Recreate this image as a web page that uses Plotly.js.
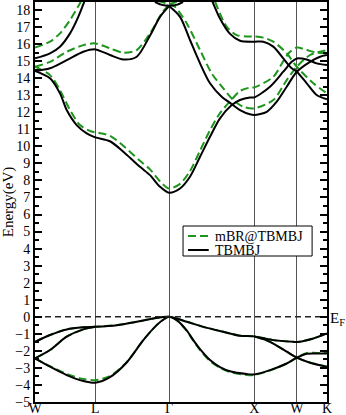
<!DOCTYPE html>
<html>
<head>
<meta charset="utf-8">
<script src="https://cdn.plot.ly/plotly-3.0.1.min.js"></script>
<style>
  html, body { margin: 0; padding: 0; background: #fff; }
  #plot { width: 346px; height: 415px; }
</style>
</head>
<body>
<div id="plot"></div>
<script>
// high symmetry points along W-L-G-X-W-K
const symK = [0, 0.707, 1.573, 2.573, 3.073, 3.427]
const symLabels = ['W', 'L', 'Γ', 'X', 'W', 'K']

// TBMBJ bands (black)
const tbA_k = [0, 0.176, 0.293, 0.372, 0.489, 0.607, 0.707, 0.880, 1.056, 1.232, 1.350, 1.467, 1.573, 1.702, 1.819, 1.937, 2.054, 2.171, 2.309, 2.406, 2.523, 2.573, 2.758, 2.914, 3.013, 3.073, 3.189, 3.306, 3.427]
const tbA_e = [14.42, 13.99, 13.11, 12.13, 11.25, 10.76, 10.53, 10.3, 9.6, 8.8, 8.31, 7.63, 7.28, 7.53, 8.22, 9.39, 10.56, 11.64, 12.42, 12.72, 12.87, 12.87, 13.5, 14.38, 14.96, 15.16, 15.1, 14.87, 14.77]

const tbB_k = [1.573, 1.702, 1.819, 1.937, 2.054, 2.191, 2.309, 2.406, 2.523, 2.573, 2.720, 2.837, 2.954, 3.073, 3.228, 3.345, 3.427]
const tbB_e = [18.23, 17.6, 16.24, 14.87, 13.7, 12.91, 12.48, 12.13, 11.88, 11.84, 12.03, 12.62, 13.5, 14.38, 14.96, 15.26, 15.36]

const tbC_k = [0, 0.176, 0.372, 0.567, 0.707, 0.880, 1.036, 1.194, 1.350, 1.467, 1.573]
const tbC_e = [14.42, 14.58, 15.06, 15.55, 15.69, 15.36, 15.1, 15.26, 16.5, 17.6, 18.23]

const tbD_k = [2.074, 2.171, 2.289, 2.406, 2.573, 2.680, 2.797, 2.914, 3.013, 3.073, 3.189, 3.306, 3.427]
const tbD_e = [18.6, 17.5, 16.6, 16.2, 16.14, 16.14, 15.85, 15.16, 14.58, 14.38, 13.7, 13.01, 12.76]

const tbE_k = [0, 0.176, 0.293, 0.411, 0.508, 0.587]
const tbE_e = [15.16, 15.46, 15.85, 16.63, 17.6, 18.6]

const tbU_k = [1.408, 1.49, 1.573, 1.66, 1.737]
const tbU_e = [18.47, 18.3, 18.25, 18.3, 18.47]

const tbV1_k = [0, 0.176, 0.372, 0.567, 0.707, 0.959, 1.194, 1.389, 1.573, 1.780, 1.975, 2.210, 2.406, 2.573, 2.797, 3.032, 3.073, 3.267, 3.427]
const tbV1_e = [-1.47, -1.07, -0.74, -0.62, -0.59, -0.49, -0.29, -0.1, 0, -0.29, -0.59, -0.88, -1.11, -1.15, -1.37, -1.47, -1.48, -1.27, -0.98]

const tbV2_k = [0, 0.176, 0.372, 0.567, 0.707, null, 2.573, 2.758, 2.954, 3.073, 3.228, 3.427]
const tbV2_e = [-2.44, -1.95, -1.17, -0.74, -0.59, null, -1.15, -1.47, -2.05, -2.4, -2.7, -2.93]

const tbV3_k = [0, 0.176, 0.372, 0.567, 0.707, 0.880, 1.076, 1.271, 1.428, 1.526, 1.573, 1.663, 1.780, 1.858, 1.937, 2.054, 2.171, 2.289, 2.485, 2.573, 2.758, 2.954, 3.073, 3.189, 3.306, 3.427]
const tbV3_e = [-2.44, -2.93, -3.42, -3.77, -3.87, -3.54, -2.68, -1.37, -0.49, -0.1, 0, -0.2, -0.8, -1.37, -1.9, -2.54, -2.95, -3.2, -3.36, -3.38, -3.13, -2.74, -2.4, -2.17, -2.15, -2.15]

// mBR@TBMBJ bands (green)
const mbA_k = [0, 0.176, 0.293, 0.411, 0.528, 0.646, 0.707, 0.880, 1.056, 1.232, 1.350, 1.467, 1.573, 1.702, 1.819, 1.937, 2.054, 2.171, 2.309, 2.406, 2.523, 2.573, 2.797, 2.914, 2.993, 3.073, 3.189, 3.306, 3.427]
const mbA_e = [14.67, 14.18, 13.3, 12.13, 11.25, 10.9, 10.82, 10.62, 9.95, 9.15, 8.65, 7.95, 7.53, 7.8, 8.55, 9.75, 10.95, 11.95, 12.75, 13.25, 13.45, 13.46, 14.08, 15.0, 15.55, 15.8, 15.65, 15.5, 15.45]

const mbB_k = [1.573, 1.643, 1.780, 1.937, 2.074, 2.210, 2.327, 2.445, 2.573, 2.797, 2.954, 3.073, 3.228, 3.427]
const mbB_e = [18.35, 18.19, 17.22, 15.65, 14.28, 13.4, 12.72, 12.32, 12.23, 12.72, 13.89, 14.67, 15.36, 15.65]

const mbC_k = [0, 0.176, 0.372, 0.567, 0.707, 0.880, 1.036, 1.194, 1.350, 1.487, 1.573]
const mbC_e = [14.67, 14.96, 15.55, 15.94, 16.04, 15.75, 15.5, 15.65, 16.63, 17.8, 18.35]

const mbD_k = [2.113, 2.250, 2.367, 2.480, 2.573, 2.680, 2.797, 2.954, 3.073, 3.267, 3.427]
const mbD_e = [18.5, 17.02, 16.53, 16.45, 16.45, 16.38, 16.14, 15.46, 14.67, 13.7, 13.11]

const mbE_k = [0, 0.176, 0.293, 0.411, 0.528, 0.587]
const mbE_e = [15.8, 16.14, 16.63, 17.41, 18.4, 19.0]

const mbU_k = [1.44, 1.573, 1.71]
const mbU_e = [18.55, 18.37, 18.55]

const mbV1_k = tbV1_k
const mbV1_e = [-1.47, -1.07, -0.74, -0.62, -0.59, -0.49, -0.29, -0.1, 0, -0.29, -0.59, -0.88, -1.11, -1.15, -1.37, -1.47, -1.48, -1.27, -0.98]

const mbV2_k = tbV2_k
const mbV2_e = [-2.44, -1.95, -1.17, -0.74, -0.59, null, -1.15, -1.47, -2.05, -2.4, -2.68, -2.93]

const mbV3_k = tbV3_k
const mbV3_e = [-2.44, -2.9, -3.35, -3.65, -3.72, -3.48, -2.66, -1.37, -0.49, -0.1, 0, -0.2, -0.82, -1.4, -1.95, -2.6, -3.0, -3.25, -3.42, -3.42, -3.15, -2.74, -2.4, -2.12, -2.12, -2.12]

const fermiK = [0, 3.427]
const fermiE = [0, 0]

const legendNames = ['mBR@TBMBJ', 'TBMBJ']

const serif = 'Liberation Serif, Times New Roman, serif'
const green = '#1e961e'
const greenDash = '8px,4px'

function band(k, e, color, dash, name) {
    return {
        x: k, y: e,
        type: 'scatter', mode: 'lines',
        line: { color: color, width: 2, dash: dash, shape: 'spline', smoothing: 0.8 },
        name: name,
        showlegend: false,
        hoverinfo: 'skip',
    }
}

const mbList = [[mbA_k, mbA_e], [mbB_k, mbB_e], [mbC_k, mbC_e], [mbD_k, mbD_e], [mbE_k, mbE_e], [mbU_k, mbU_e], [mbV1_k, mbV1_e], [mbV2_k, mbV2_e], [mbV3_k, mbV3_e]]
const tbList = [[tbA_k, tbA_e], [tbB_k, tbB_e], [tbC_k, tbC_e], [tbD_k, tbD_e], [tbE_k, tbE_e], [tbU_k, tbU_e], [tbV1_k, tbV1_e], [tbV2_k, tbV2_e], [tbV3_k, tbV3_e]]

const traces = []
mbList.forEach(b => traces.push(band(b[0], b[1], green, greenDash, legendNames[0])))
tbList.forEach(b => traces.push(band(b[0], b[1], '#000', 'solid', legendNames[1])))
traces.push({
    x: fermiK, y: fermiE, type: 'scatter', mode: 'lines',
    line: { color: '#222', width: 1.5, dash: '6px,4px' },
    showlegend: false, hoverinfo: 'skip',
})

// legend box drawn by hand (paper coords) so it stays compact like the original
const legX0 = 0.507, legX1 = 0.949, legY0 = 0.365, legY1 = 0.44
const rowY = [0.415, 0.38]
const sampleX = [0.524, 0.595]
const textX = 0.61

const shapes = [{
    type: 'rect', xref: 'paper', yref: 'paper', layer: 'above',
    x0: legX0, x1: legX1, y0: legY0, y1: legY1,
    fillcolor: '#fff', line: { color: '#000', width: 1 },
}, {
    type: 'line', xref: 'paper', yref: 'paper', layer: 'above',
    x0: sampleX[0], x1: sampleX[1], y0: rowY[0], y1: rowY[0],
    line: { color: green, width: 2, dash: greenDash },
}, {
    type: 'line', xref: 'paper', yref: 'paper', layer: 'above',
    x0: sampleX[0], x1: sampleX[1], y0: rowY[1], y1: rowY[1],
    line: { color: '#000', width: 2 },
}]

const annotations = legendNames.map((name, i) => ({
    x: textX, xref: 'paper', y: rowY[i], yref: 'paper',
    xanchor: 'left', yanchor: 'middle',
    text: name, showarrow: false,
    font: { family: serif, size: 14, color: '#000' },
}))
annotations.push({
    x: 1, xref: 'paper', y: 0, yref: 'y',
    xanchor: 'left', yanchor: 'middle', xshift: 1, yshift: -2,
    text: 'E<sub>F</sub>', showarrow: false,
    font: { family: serif, size: 15, color: '#000' },
})

const layout = {
    width: 346, height: 415,
    margin: { l: 35, r: 19, t: 2, b: 13 },
    paper_bgcolor: '#fff', plot_bgcolor: '#fff',
    font: { family: serif, size: 14, color: '#000' },
    showlegend: false,
    xaxis: {
        range: [0, 3.427],
        tickmode: 'array', tickvals: symK, ticktext: symLabels,
        ticks: '', showgrid: true, gridcolor: '#555', gridwidth: 1,
        zeroline: false, showline: true, mirror: true, linecolor: '#000', linewidth: 2,
        tickfont: { family: serif, size: 14 },
        ticklabelstandoff: -8,
    },
    yaxis: {
        range: [-5, 18.47],
        tickmode: 'linear', tick0: 0, dtick: 1,
        ticks: 'inside', ticklen: 7, tickwidth: 2, tickcolor: '#000',
        minor: { dtick: 0.5, ticks: 'inside', ticklen: 4, tickwidth: 2, tickcolor: '#000' },
        showgrid: false, zeroline: false,
        showline: true, mirror: 'ticks', linecolor: '#000', linewidth: 2,
        tickfont: { family: serif, size: 14 },
        title: { text: 'Energy(eV)', font: { family: serif, size: 15 }, standoff: 2 },
    },
    shapes: shapes,
    annotations: annotations,
}

Plotly.newPlot('plot', traces, layout, { displayModeBar: false, staticPlot: true })
</script>
</body>
</html>
